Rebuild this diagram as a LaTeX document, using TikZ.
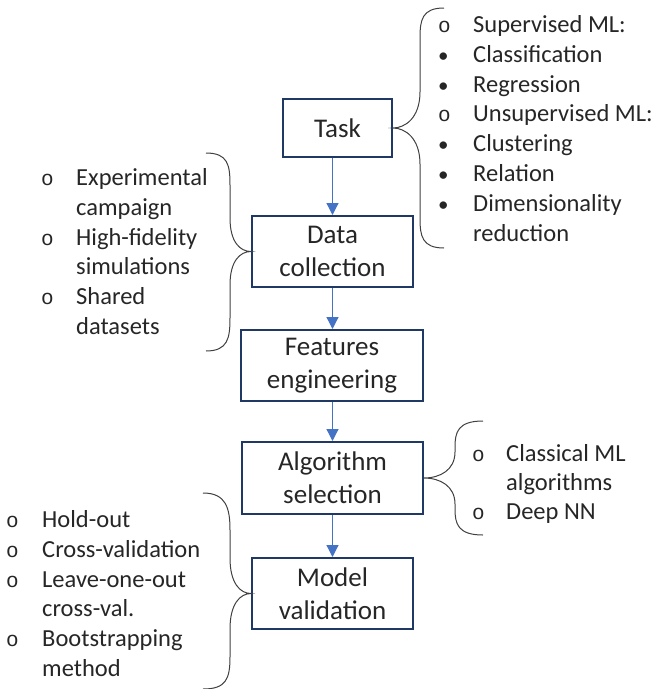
\documentclass[tikz,border=0pt]{standalone}
\usepackage{fontspec}
\setmainfont{Carlito}
\newfontfamily\bulfont{Liberation Mono}
\usetikzlibrary{arrows.meta}
\definecolor{boxline}{HTML}{1F3864}
\definecolor{arrowblue}{HTML}{4472C4}
\definecolor{txt}{HTML}{262626}
\newcommand{\bopen}{{\bulfont o}}
\newcommand{\bfull}{\textbullet}
\begin{document}
\begin{tikzpicture}[x=1pt,y=-1pt,
  stepbox/.style={draw=boxline,line width=2pt,align=center,inner sep=0pt,
    text=txt,font=\fontsize{27}{33}\selectfont},
  flow/.style={draw=arrowblue,line width=1.2pt,-{Triangle[width=12pt,length=12pt]}},
  item/.style={anchor=base west,inner sep=0pt,text=txt,font=\fontsize{24.5}{30}\selectfont},
  bul/.style={anchor=base west,inner sep=0pt,text=txt,font=\fontsize{21}{30}\selectfont},
  brace/.style={draw=black!75,line width=1pt}]
\useasboundingbox (0,0) rectangle (657,689);

% boxes
\node[stepbox,minimum width=109pt,minimum height=58pt] (task) at (337.5,128) {Task};
\node[stepbox,minimum width=161pt,minimum height=71pt] (datac) at (332.5,251.5) {Data\\collection};
\node[stepbox,minimum width=182pt,minimum height=71pt] (feat) at (332,365.5) {Features\\engineering};
\node[stepbox,minimum width=181pt,minimum height=72pt] (algo) at (332.5,478) {Algorithm\\selection};
\node[stepbox,minimum width=161pt,minimum height=71pt] (model) at (332.5,593.5) {Model\\validation};

% arrows
\draw[flow] (datac.north |- task.south) -- (datac.north);
\draw[flow] (datac.south) -- (feat.north -| datac.south);
\draw[flow] (feat.south -| datac.south) -- (algo.north -| datac.south);
\draw[flow] (algo.south -| datac.south) -- (model.north);

% top-right list
\foreach \y/\t [count=\i] in {32/Supervised ML:,62/Classification,92/Regression,121/Unsupervised ML:,151/Clustering,181/Relation,211/Dimensionality,241/reduction}
  \node[item] (tr\i) at (473,\y) {\t};
\foreach \y/\b [count=\i] in {32/\bopen,62/\bfull,92/\bfull,121/\bopen,151/\bfull,181/\bfull,211/\bfull}
  \node[bul] (trb\i) at (438,\y) {\b};

% left list (data)
\foreach \y/\t [count=\i] in {185/Experimental,215/campaign,245/High-fidelity,274/simulations,304/Shared,334/datasets}
  \node[item] (dl\i) at (76,\y) {\t};
\foreach \y [count=\i] in {185,245,304}
  \node[bul] (dlb\i) at (41,\y) {\bopen};

% algorithm list
\foreach \y/\t [count=\i] in {461/Classical ML,490/algorithms,519/Deep NN}
  \node[item] (al\i) at (506,\y) {\t};
\foreach \y [count=\i] in {461,519}
  \node[bul] (alb\i) at (472,\y) {\bopen};

% model list
\foreach \y/\t [count=\i] in {527/Hold-out,557/Cross-validation,587/Leave-one-out,616/cross-val.,646/Bootstrapping,676/method}
  \node[item] (ml\i) at (42,\y) {\t};
\foreach \y [count=\i] in {527,557,587,646}
  \node[bul] (mlb\i) at (6,\y) {\bopen};

% braces
\draw[brace] (444,8) .. controls (422,8) and (420,20) .. (420,38) -- (420,92)
  .. controls (420,118) and (405,128) .. (task.east)
  .. controls (405,128) and (420,138) .. (420,164) -- (420,218)
  .. controls (420,236) and (422,248) .. (444,248);
\draw[brace] (206,153) .. controls (228,153) and (230,165) .. (230,185) -- (230,218)
  .. controls (230,242) and (240,251.5) .. (datac.west)
  .. controls (240,251.5) and (230,261) .. (230,285) -- (230,318)
  .. controls (230,338) and (228,351) .. (206,351);
\draw[brace] (483,421) .. controls (458,421) and (455,432) .. (455,447) -- (455,452)
  .. controls (455,470) and (440,478) .. (algo.east)
  .. controls (440,478) and (455,486) .. (455,504) -- (455,509)
  .. controls (455,524) and (458,535) .. (483,535);
\draw[brace] (203,493) .. controls (226,493) and (230,508) .. (230,530) -- (230,558)
  .. controls (230,583) and (240,593.5) .. (model.west)
  .. controls (240,593.5) and (230,604) .. (230,629) -- (230,657)
  .. controls (230,679) and (226,689) .. (203,689);
\end{tikzpicture}
\end{document}
